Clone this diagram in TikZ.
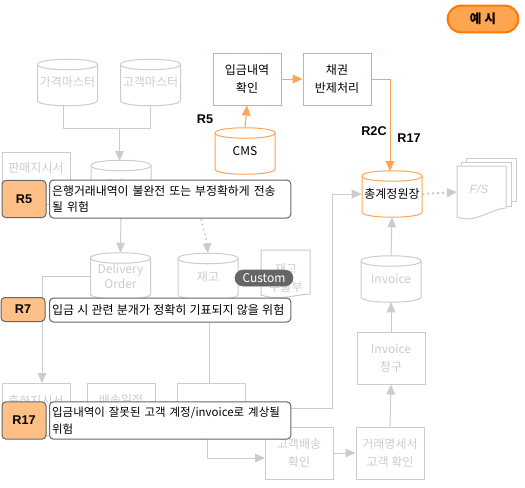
\documentclass[tikz,border=0pt]{standalone}
\usepackage{fontspec}
\setmainfont{Noto Sans CJK KR}
\newfontfamily\lat{Liberation Sans}
\usetikzlibrary{arrows.meta,calc}
\definecolor{gline}{HTML}{CCCCCC}
\definecolor{oline}{HTML}{FFA552}
\definecolor{rfill}{HTML}{FFC088}
\definecolor{cedge}{HTML}{666666}
\tikzset{
  every node/.style={font=\fontsize{9}{13.5}\selectfont},
  txt/.style={align=center,inner sep=0pt},
  grayb/.style={draw=gline,line width=.75pt,fill=white,minimum width=51pt,minimum height=39pt,txt,text=gline},
  orab/.style={draw=oline,line width=.75pt,fill=white,minimum width=51pt,minimum height=39pt,txt,text=black},
  cylbody/.style={line width=.75pt,fill=white},
  cyltext/.style={minimum width=45pt,minimum height=34.5pt,txt},
  gconn/.style={draw=gline,line width=.75pt,-{Triangle[length=7.5pt,width=6.5pt,fill=gline]}},
  gplain/.style={draw=gline,line width=.75pt},
  oconn/.style={draw=oline,line width=.75pt,-{Triangle[length=7.5pt,width=6.5pt,fill=oline]}},
  gdot/.style={gconn,line width=1.5pt,dash pattern=on 1.5pt off 2.2pt},
  rbox/.style={draw=cedge,line width=.75pt,fill=rfill,rounded corners=3pt,minimum width=33pt,txt,font=\lat\fontsize{9.5}{11}\selectfont\bfseries},
  callout/.style={draw=cedge,line width=.75pt,fill=white,rounded corners=3pt,align=left,anchor=west,inner xsep=2pt,inner ysep=0pt,text width=177pt},
  rlabel/.style={txt,font=\lat\fontsize{9.5}{11}\selectfont\bfseries},
  docpage/.style={draw=gline,line width=.75pt,fill=white},
}
% name, cx, cy, colour, text colour, text
\newcommand{\cylnode}[6]{%
  \begin{scope}[shift={(#2,#3)}]
    \draw[cylbody,draw=#4] (-30,-18) .. controls (-30,-25) and (30,-25) .. (30,-18) -- (30,18)
      .. controls (30,25) and (-30,25) .. (-30,18) -- cycle;
    \draw[cylbody,draw=#4,fill=none] (-30,-18) .. controls (-30,-11) and (30,-11) .. (30,-18);
  \end{scope}
  \node[cyltext,text=#5] (#1) at (#2,#3) {#6};
}
\begin{document}
\begin{tikzpicture}[x=.75pt,y=-.75pt]
\useasboundingbox[fill=white] (0,0) rectangle (525,487);
% example pill
\node[draw=orange!95!red,line width=1.5pt,fill=oline,rounded corners=10pt,minimum width=53pt,minimum height=20pt,txt,font=\fontsize{9.5}{11}\selectfont\bfseries] (pill) at (483,19) {예 시};
% gray master data
\cylnode{price}{67.5}{82.5}{gline}{gline}{가격마스터}
\cylnode{cust}{150.5}{82.5}{gline}{gline}{고객마스터}
\cylnode{sales}{121}{183.5}{gline}{gline}{Sales}
\node[grayb] (sorder) at (36,178) {판매지시서\\[2pt]\ };
\cylnode{deliv}{120.5}{276}{gline}{gline}{Delivery\\[-2pt]Order}
\cylnode{stock}{208}{276.5}{gline}{gline}{재고}
\node[grayb] (ship) at (36,409) {출하지시서\\\ };
\node[grayb] (sched) at (121,409) {배송일정\\\ };
\node[grayb] (blank) at (211,409) {};
\node[grayb] (cconf) at (299,453) {고객배송\\확인};
\node[grayb] (state) at (390,453) {거래명세서\\고객 확인};
\node[grayb] (bill) at (391,358) {Invoice\\청구};
\cylnode{inv}{391}{279}{gline}{gline}{Invoice}
% stock ledger document
\draw[docpage] (261,250) -- (310,250) -- (310,294) .. controls (292,295) and (280,301) .. (261,295) -- cycle;
\node[txt,text=gline] (ledger) at (286,278) {재고\\수불부};
% F/S pages
\draw[docpage] (466,158) -- (516,158) -- (516,201) -- (466,201) -- cycle;
\draw[docpage] (461,162) -- (511,162) -- (511,206) -- (461,206) -- cycle;
\draw[docpage] (457,166) -- (506,166) -- (506,208) .. controls (490,209) and (475,224) .. (457,217) -- cycle;
\node[txt,text=gline,font=\lat\fontsize{9}{11}\selectfont\itshape] (fs) at (479,189) {F/S};
\coordinate (fsin) at (457,192);
% orange nodes
\node[orab] (recv) at (247,79) {입금내역\\확인};
\node[orab] (bond) at (337,79) {채권\\반제처리};
\cylnode{cms}{245}{151}{oline}{black}{CMS}
\cylnode{gl}{392}{194}{oline}{black}{총계정원장}
% gray connectors
\coordinate (mergeA) at (119.5,128);
\draw[gplain] ([xshift=-3pt]price.south) |- (mergeA);
\draw[gplain] (cust.south) |- (mergeA);
\draw[gconn] (mergeA) -- (119.5,161);
\draw[gconn] ([yshift=-4.5pt]sorder.east) -- ([yshift=-4.5pt]sales.west);
\draw[gconn] (sales.south) -- (deliv.north);
\draw[gdot,line width=1pt] (201,219) .. controls (203,228) and (206,235) .. (stock.north);
\draw[gconn] (deliv.west) -| (42,383);
\draw[gplain] (209,298) -- (209,383);
\draw[gconn] (207,435) |- (265,458);
\draw[gconn] (cconf.east) -- (state.west);
\draw[gconn] (state.north) -- (bill.south);
\draw[gconn] (bill.north) -- (inv.south);
\draw[gconn] (inv.north) -- (gl.south);
\coordinate (r17out) at (291,408);
\draw[gconn] (r17out) -| (332,194) -- (gl.west);
\draw[gdot] (gl.east) -- (fsin);
% orange connectors
\draw[oconn] (cms.north) -- (recv.south);
\draw[oconn] (recv.east) -- (bond.west);
\draw[oconn] (bond.east) -| (390,171);
% labels
\node[rlabel] (lr5) at (205,119) {R5};
\node[rlabel] (lr2c) at (374,131) {R2C};
\node[rlabel] (lr17) at (409,138) {R17};
% risk rows
\node[rbox,minimum height=28pt] (r5) at (24,199) {R5};
\node[callout,minimum height=28.5pt] (c5) at (49,199) {\fontsize{8.9}{13.5}\selectfont\mbox{은행거래내역이 불완전 또는 부정확하게 전송}\\[-1pt]될 위험};
\node[rbox,minimum height=18pt] (r7) at (23,309.5) {R7};
\node[callout,minimum height=18pt] (c7) at (49,310) {\spaceskip=2.4pt\mbox{입금 시 관련 분개가 정확히 기표되지 않을 위험}};
\node[rbox,minimum height=28pt] (r17) at (24,420.5) {R17};
\node[callout,minimum height=28pt] (c17) at (49,420.5) {\fontsize{8.6}{13.5}\selectfont\mbox{입금내역이 잘못된 고객 계정/invoice로 계상될}\\[-1pt]위험};
\node[draw=cedge,fill=cedge,text=white,rounded corners=6pt,minimum width=43.5pt,minimum height=12pt,txt] (tag) at (264,278) {Custom};
\end{tikzpicture}
\end{document}
